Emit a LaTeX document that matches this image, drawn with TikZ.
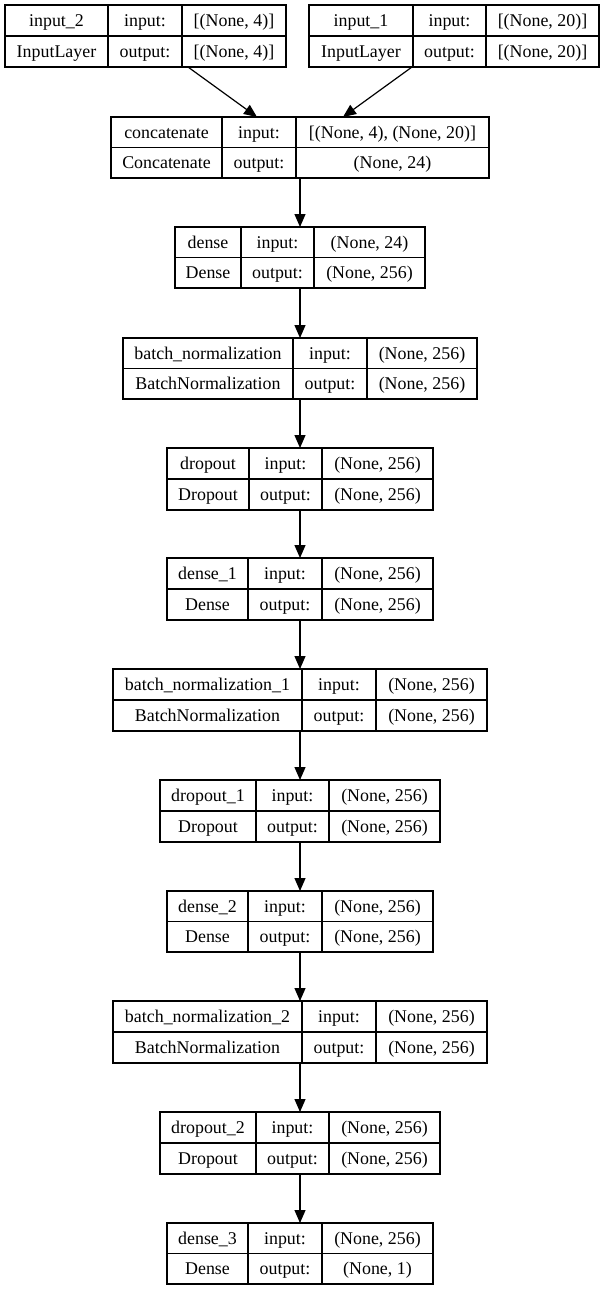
\documentclass[tikz,border=0pt]{standalone}
\usepackage{fontspec}
\setmainfont{Liberation Serif}
\usetikzlibrary{arrows.meta}
\tikzset{
  layerbox/.style={draw, line width=1.1bp, inner sep=0pt, outer sep=0pt},
  cellline/.style={line width=1.1bp},
  celltxt/.style={font=\fontsize{17.9bp}{21bp}\selectfont, inner sep=0pt, text height=12bp, text depth=0bp, anchor=center},
  flow/.style={line width=1.2bp, -{Triangle[length=13bp,width=11bp]}}
}
\newcommand\mklayer[7]{%
  \node[layerbox, minimum width={(#5-#2)*1bp}, minimum height={(#7-#6)*1bp}] (#1) at ({(#2+#5)/2},{(#6+#7)/2}) {};
  \draw[cellline] (#3,#6) -- (#3,#7) (#4,#6) -- (#4,#7) (#2,{(#6+#7)/2}) -- (#5,{(#6+#7)/2});
  \coordinate (#1-11) at ({(#2+#3)/2},{(3*#6+#7)/4});
  \coordinate (#1-12) at ({(#3+#4)/2},{(3*#6+#7)/4});
  \coordinate (#1-13) at ({(#4+#5)/2},{(3*#6+#7)/4});
  \coordinate (#1-21) at ({(#2+#3)/2},{(#6+3*#7)/4});
  \coordinate (#1-22) at ({(#3+#4)/2},{(#6+3*#7)/4});
  \coordinate (#1-23) at ({(#4+#5)/2},{(#6+3*#7)/4});
}
\newcommand\mktext[5]{%
  \node[celltxt] (#1-t11) at (#1-11) {#2};
  \node[celltxt] (#1-t12) at (#1-12) {input:};
  \node[celltxt] (#1-t13) at (#1-13) {#4};
  \node[celltxt] (#1-t21) at (#1-21) {#3};
  \node[celltxt] (#1-t22) at (#1-22) {output:};
  \node[celltxt] (#1-t23) at (#1-23) {#5};
}
\begin{document}
\begin{tikzpicture}[x=1bp,y=-1bp]
\fill[white] (0,0) rectangle (605,1291);
\useasboundingbox (0,0) rectangle (605,1291);

\mklayer{in2}{5}{108}{182}{286}{5}{67}
\mktext{in2}{input\_2}{InputLayer}{[(None, 4)]}{[(None, 4)]}
\mklayer{in1}{309}{413}{486}{599}{5}{67}
\mktext{in1}{input\_1}{InputLayer}{[(None, 20)]}{[(None, 20)]}
\mklayer{concat}{111}{222}{296}{489}{117}{178}
\mktext{concat}{concatenate}{Concatenate}{[(None, 4), (None, 20)]}{(None, 24)}
\mklayer{dense}{175}{241}{314}{425}{227}{288}
\mktext{dense}{dense}{Dense}{(None, 24)}{(None, 256)}
\mklayer{bn}{123}{293}{367}{477}{338}{399}
\mktext{bn}{batch\_normalization}{BatchNormalization}{(None, 256)}{(None, 256)}
\mklayer{drop}{167}{249}{322}{433}{448}{510}
\mktext{drop}{dropout}{Dropout}{(None, 256)}{(None, 256)}
\mklayer{dense1}{167}{248}{322}{433}{558}{620}
\mktext{dense1}{dense\_1}{Dense}{(None, 256)}{(None, 256)}
\mklayer{bn1}{113}{302}{376}{487}{669}{731}
\mktext{bn1}{batch\_normalization\_1}{BatchNormalization}{(None, 256)}{(None, 256)}
\mklayer{drop1}{160}{256}{329}{440}{780}{842}
\mktext{drop1}{dropout\_1}{Dropout}{(None, 256)}{(None, 256)}
\mklayer{dense2}{167}{248}{322}{433}{891}{952}
\mktext{dense2}{dense\_2}{Dense}{(None, 256)}{(None, 256)}
\mklayer{bn2}{113}{302}{376}{487}{1001}{1063}
\mktext{bn2}{batch\_normalization\_2}{BatchNormalization}{(None, 256)}{(None, 256)}
\mklayer{drop2}{160}{256}{329}{440}{1112}{1174}
\mktext{drop2}{dropout\_2}{Dropout}{(None, 256)}{(None, 256)}
\mklayer{dense3}{167}{248}{322}{433}{1223}{1284}
\mktext{dense3}{dense\_3}{Dense}{(None, 256)}{(None, 1)}

\draw[flow] ([xshift=42.5bp]in2.south) -- ([xshift=-43bp]concat.north);
\draw[flow] ([xshift=-42bp]in1.south) -- ([xshift=43bp]concat.north);
\draw[flow] (concat.south) -- (concat.south |- dense.north);
\draw[flow] (dense.south) -- (dense.south |- bn.north);
\draw[flow] (bn.south) -- (bn.south |- drop.north);
\draw[flow] (drop.south) -- (drop.south |- dense1.north);
\draw[flow] (dense1.south) -- (dense1.south |- bn1.north);
\draw[flow] (bn1.south) -- (bn1.south |- drop1.north);
\draw[flow] (drop1.south) -- (drop1.south |- dense2.north);
\draw[flow] (dense2.south) -- (dense2.south |- bn2.north);
\draw[flow] (bn2.south) -- (bn2.south |- drop2.north);
\draw[flow] (drop2.south) -- (drop2.south |- dense3.north);
\end{tikzpicture}
\end{document}
